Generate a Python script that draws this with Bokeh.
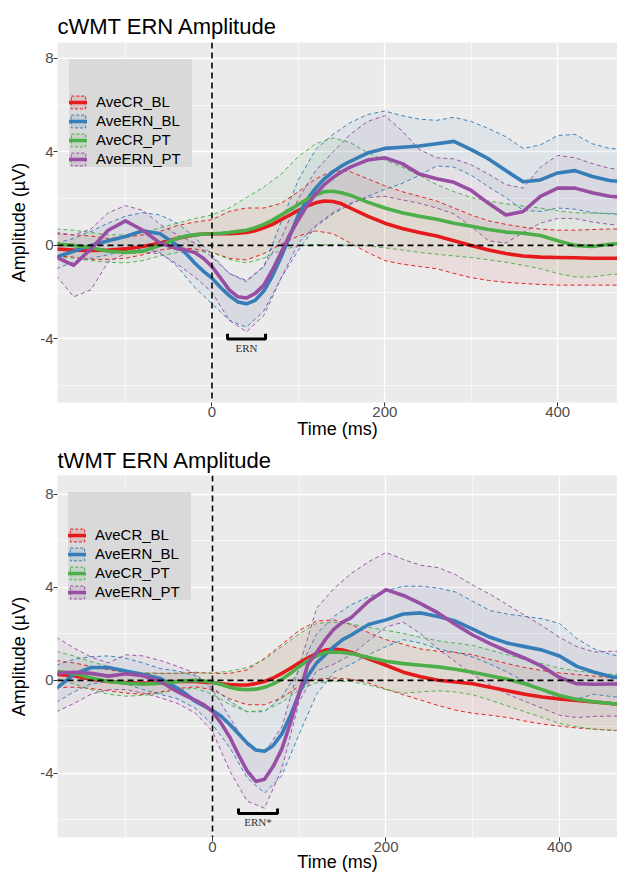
import numpy as np
from bokeh.plotting import figure
from bokeh.models import (Range1d, FixedTicker, Span, Legend, LegendItem)
from bokeh.layouts import column
from bokeh.embed import file_html
from bokeh.resources import INLINE
from bokeh.core.properties import value

# ---------------- data ----------------
# time base of the confidence bands (dashed bounds)
time_ms = [-180, -160, -140, -120, -100, -80, -60, -40, -20, 0,
           20, 40, 60, 80, 100, 120, 140, 160, 180, 200,
           220, 240, 260, 280, 300, 320, 340, 360, 380, 400,
           420, 440, 460, 480]
# time base of the mean waveforms (finer around the ERN)
time_mean = [-180, -160, -140, -120, -100, -80, -60,
             -40, -30, -20, -10, 0, 10, 20, 30, 40, 50, 60, 70, 80, 90,
             100, 110, 120, 130, 140, 150, 160,
             180, 200, 220, 240, 260, 280, 300, 320, 340, 360, 380, 400,
             420, 440, 460, 480]

series_names = ["AveCR_BL", "AveERN_BL", "AveCR_PT", "AveERN_PT"]
series_colors = ["#E41A1C", "#377EB8", "#4DAF4A", "#984EA3"]

x_ticks = [-200, 0, 200, 400]
x_tick_labels = ["-200", "0", "200", "400"]
x_minor = [-100, 100, 300]
y_ticks = [-4, 0, 4, 8]
y_tick_labels = ["-4", "0", "4", "8"]
y_minor = [-6, -2, 2, 6]

# ---- cWMT (top) ----
c_cr_bl = [-0.15, -0.2, -0.22, -0.2, -0.15, -0.05, 0.1,
           0.3, 0.38, 0.45, 0.49, 0.5, 0.5, 0.5, 0.52, 0.55, 0.63, 0.75, 0.9, 1.1, 1.3,
           1.5, 1.68, 1.82, 1.9, 1.88, 1.78, 1.6,
           1.25, 0.95, 0.72, 0.55, 0.4, 0.2, 0.0, -0.2, -0.35, -0.45, -0.5, -0.52,
           -0.53, -0.55, -0.55, -0.55]
c_cr_bl_hi = [0.5, 0.45, 0.4, 0.3, 0.35, 0.45, 0.6, 0.85, 1.0, 1.1,
              1.45, 1.6, 1.6, 1.8, 2.3, 2.85, 3.2, 3.15, 2.85, 2.55,
              2.3, 2.1, 1.9, 1.6, 1.3, 1.05, 0.9, 0.78, 0.7, 0.65,
              0.65, 0.68, 0.7, 0.7]
c_cr_bl_lo = [-0.45, -0.5, -0.6, -0.6, -0.55, -0.4, -0.2, -0.1, -0.15, -0.3,
              -0.55, -0.62, -0.35, 0.05, 0.4, 0.62, 0.5, 0.1, -0.3, -0.65,
              -0.8, -0.9, -1.0, -1.2, -1.38, -1.5, -1.58, -1.63, -1.67, -1.7,
              -1.7, -1.7, -1.7, -1.7]

c_ern_bl = [-0.5, -0.25, 0.0, 0.2, 0.38, 0.63, 0.5,
            0.0, -0.35, -0.75, -1.1, -1.4, -1.8, -2.15, -2.42, -2.5, -2.35, -1.95, -1.3, -0.5, 0.4,
            1.3, 1.95, 2.45, 2.85, 3.15, 3.4, 3.6,
            3.95, 4.15, 4.2, 4.25, 4.35, 4.45, 4.1, 3.7, 3.2, 2.72, 2.8, 3.1,
            3.2, 2.95, 2.78, 2.7]
c_ern_bl_hi = [0.1, 0.3, 0.6, 0.95, 1.25, 1.4, 1.3, 0.95, 0.35, -0.4,
               -1.2, -1.55, -0.9, 1.0, 2.8, 4.1, 4.75, 5.25, 5.6, 5.75,
               5.55, 5.4, 5.35, 5.48, 5.3, 5.0, 4.65, 4.15, 4.3, 4.7,
               4.75, 4.35, 4.15, 4.1]
c_ern_bl_lo = [-1.0, -0.7, -0.55, -0.4, -0.25, -0.15, -0.3, -0.9, -1.8, -2.5,
               -3.2, -3.5, -2.8, -1.4, -0.2, 0.8, 1.35, 1.75, 2.1, 2.4,
               2.65, 3.0, 3.4, 3.35, 3.0, 2.5, 2.05, 1.5, 1.45, 1.6,
               1.55, 1.4, 1.35, 1.3]

c_cr_pt = [0.05, 0.0, -0.1, -0.25, -0.3, -0.25, 0.0,
           0.3, 0.4, 0.45, 0.49, 0.5, 0.52, 0.55, 0.6, 0.65, 0.76, 0.9, 1.08, 1.3, 1.52,
           1.75, 1.97, 2.15, 2.3, 2.32, 2.25, 2.15,
           1.85, 1.6, 1.4, 1.25, 1.12, 0.95, 0.82, 0.68, 0.57, 0.52, 0.42, 0.2,
           0.0, -0.05, 0.05, 0.1]
c_cr_pt_hi = [0.7, 0.65, 0.55, 0.45, 0.45, 0.55, 0.75, 0.95, 1.15, 1.3,
              1.6, 2.05, 2.5, 3.05, 3.8, 4.35, 4.6, 4.4, 3.97, 3.65,
              3.35, 3.0, 2.6, 2.3, 2.05, 1.9, 1.78, 1.68, 1.6, 1.48,
              1.4, 1.38, 1.37, 1.37]
c_cr_pt_lo = [-0.5, -0.55, -0.65, -0.72, -0.75, -0.65, -0.45, -0.3, -0.25, -0.3,
              -0.6, -0.75, -0.55, -0.2, -0.02, 0.03, 0.02, 0.0, -0.02, -0.1,
              -0.2, -0.3, -0.38, -0.45, -0.52, -0.62, -0.72, -0.85, -1.0, -1.2,
              -1.35, -1.35, -1.25, -1.2]

c_ern_pt = [-0.5, -0.85, -0.15, 0.65, 1.05, 0.65, 0.1,
            -0.15, -0.2, -0.3, -0.55, -0.9, -1.4, -1.9, -2.2, -2.25, -2.05, -1.7, -1.05, -0.3, 0.45,
            1.1, 1.7, 2.2, 2.6, 2.9, 3.15, 3.35,
            3.65, 3.75, 3.5, 3.05, 2.85, 2.7, 2.35, 1.8, 1.3, 1.45, 2.1, 2.45,
            2.45, 2.25, 2.1, 2.05]
c_ern_pt_hi = [0.55, 0.45, 0.7, 1.4, 1.7, 1.5, 0.9, 0.45, 0.1, -0.5,
               -1.2, -1.5, -0.9, 0.3, 2.0, 3.2, 4.0, 4.75, 5.3, 5.55,
               4.9, 4.1, 3.75, 3.7, 3.45, 3.05, 2.6, 2.45, 3.35, 3.85,
               3.75, 3.5, 3.3, 3.2]
c_ern_pt_lo = [-1.3, -2.2, -1.9, -0.7, -0.35, -0.3, -0.35, -0.8, -1.35, -2.0,
               -3.2, -3.7, -3.0, -1.4, 0.1, 0.85, 1.4, 1.8, 2.05, 2.1,
               1.95, 1.8, 1.6, 1.35, 0.8, 0.2, 0.1, 0.55, 0.95, 1.15,
               1.15, 1.0, 0.9, 0.85]

# ---- tWMT (bottom) ----
t_cr_bl = [0.25, 0.2, 0.05, -0.05, -0.1, -0.13, -0.1,
           -0.05, -0.05, -0.05, -0.08, -0.1, -0.15, -0.18, -0.2, -0.2, -0.14, -0.05, 0.1, 0.3, 0.52,
           0.75, 0.97, 1.15, 1.3, 1.35, 1.3, 1.2,
           0.93, 0.65, 0.35, 0.15, 0.0, -0.07, -0.15, -0.3, -0.45, -0.6, -0.72, -0.8,
           -0.87, -0.93, -1.0, -1.05]
t_cr_bl_hi = [0.85, 0.75, 0.6, 0.45, 0.35, 0.3, 0.3, 0.3, 0.35, 0.3,
              0.3, 0.45, 0.95, 1.55, 2.15, 2.55, 2.6, 2.4, 2.05, 1.75,
              1.55, 1.35, 1.25, 1.2, 1.1, 0.9, 0.72, 0.55, 0.42, 0.32,
              0.25, 0.18, 0.12, 0.1]
t_cr_bl_lo = [-0.3, -0.3, -0.35, -0.45, -0.55, -0.6, -0.5, -0.35, -0.28, -0.4,
              -0.8, -1.05, -1.05, -0.75, -0.25, 0.05, 0.1, 0.05, -0.12, -0.38,
              -0.62, -0.85, -1.08, -1.28, -1.42, -1.5, -1.6, -1.75, -1.88, -1.97,
              -2.05, -2.1, -2.15, -2.18]

t_ern_bl = [-0.35, 0.25, 0.55, 0.55, 0.4, 0.25, 0.08,
            -0.35, -0.6, -0.9, -1.1, -1.3, -1.55, -1.9, -2.3, -2.7, -3.0, -3.05, -2.8, -2.3, -1.5,
            -0.55, 0.2, 0.75, 1.1, 1.45, 1.75, 1.95,
            2.4, 2.6, 2.85, 2.9, 2.75, 2.55, 2.2, 1.85, 1.6, 1.45, 1.3, 1.05,
            0.6, 0.35, 0.15, 0.08]
t_ern_bl_hi = [0.65, 0.9, 1.02, 1.05, 0.95, 0.75, 0.5, 0.4, 0.2, -0.3,
               -0.9, -1.35, -1.35, -0.7, 0.45, 2.0, 2.75, 3.25, 3.6, 3.85,
               4.05, 4.05, 3.97, 3.8, 3.4, 3.0, 2.85, 2.75, 2.65, 2.45,
               1.8, 1.35, 1.1, 1.0]
t_ern_bl_lo = [-0.95, -0.5, -0.15, -0.05, -0.15, -0.4, -0.6, -0.8, -1.2, -1.9,
               -2.9, -4.2, -4.85, -4.1, -2.3, -0.6, 0.35, 0.7, 1.1, 1.45,
               1.75, 1.6, 1.35, 1.2, 1.0, 0.7, 0.35, -0.05, -0.4, -0.85,
               -0.8, -0.6, -0.7, -0.76]

t_cr_pt = [0.38, 0.3, 0.1, -0.05, -0.12, -0.17, -0.12,
           -0.05, -0.02, 0.0, -0.03, -0.08, -0.18, -0.3, -0.38, -0.4, -0.38, -0.3, -0.15, 0.05, 0.3,
           0.6, 0.85, 1.05, 1.2, 1.22, 1.2, 1.15,
           0.98, 0.82, 0.72, 0.65, 0.58, 0.48, 0.35, 0.2, 0.05, -0.15, -0.4, -0.65,
           -0.82, -0.92, -1.0, -1.05]
t_cr_pt_hi = [1.25, 1.05, 0.8, 0.6, 0.4, 0.33, 0.3, 0.3, 0.32, 0.32,
              0.4, 0.55, 0.9, 1.45, 2.0, 2.45, 2.5, 2.42, 2.28, 2.15,
              2.02, 1.85, 1.7, 1.6, 1.5, 1.3, 1.1, 0.9, 0.72, 0.52,
              0.4, 0.32, 0.26, 0.24]
t_cr_pt_lo = [0.05, -0.15, -0.4, -0.6, -0.68, -0.65, -0.55, -0.4, -0.35, -0.6,
              -1.05, -1.35, -1.3, -0.95, -0.4, -0.1, -0.04, -0.05, -0.2, -0.4,
              -0.55, -0.5, -0.45, -0.5, -0.62, -0.85, -1.1, -1.35, -1.6, -1.85,
              -2.0, -2.1, -2.15, -2.18]

t_ern_pt = [0.3, 0.35, 0.3, 0.18, 0.28, 0.2, -0.05,
            -0.5, -0.68, -0.85, -1.05, -1.35, -1.85, -2.45, -3.2, -3.9, -4.35, -4.25, -3.7, -2.95, -1.8,
            -0.55, 0.7, 1.2, 1.75, 2.2, 2.5, 2.7,
            3.4, 3.9, 3.65, 3.3, 2.9, 2.4, 1.95, 1.58, 1.25, 0.95, 0.6, 0.12,
            -0.15, -0.17, -0.16, -0.16]
t_ern_pt_hi = [1.85, 1.4, 1.0, 0.75, 1.1, 1.05, 0.85, 0.6, 0.3, -0.4,
               -1.6, -2.8, -3.1, -2.0, 0.6, 3.1, 3.95, 4.6, 5.1, 5.5,
               5.2, 4.95, 4.85, 4.55, 4.1, 3.7, 3.25, 2.8, 2.35, 1.85,
               1.45, 1.22, 1.25, 1.25]
t_ern_pt_lo = [-1.35, -1.0, -0.6, -0.4, -0.4, -0.55, -0.75, -1.0, -1.4, -2.2,
               -3.9, -5.2, -5.5, -3.8, -0.9, 0.4, 0.7, 1.1, 1.7, 2.3,
               2.5, 2.0, 1.35, 0.8, 0.25, -0.2, -0.6, -0.9, -1.2, -1.5,
               -1.6, -1.55, -1.54, -1.54]

# ERN window annotations
c_ern_window = [18, 62]
c_ern_level = -4.0
c_ern_label = "ERN"
t_ern_window = [30, 75]
t_ern_level = -5.73
t_ern_label = "ERN*"

# ---------------- styling ----------------
FONT = "Liberation Sans"
SERIF = "Liberation Serif"


def make_panel(title, means, highs, lows, window, level, label,
               x_range, y_range, height, b_top, b_bottom, b_left,
               legend_loc, title_standoff, xlabel_standoff):
    p = figure(width=617, height=height,
               x_range=Range1d(*x_range), y_range=Range1d(*y_range),
               output_backend="svg", toolbar_location=None,
               min_border_left=b_left, min_border_right=0,
               min_border_top=b_top, min_border_bottom=b_bottom)
    p.title.text = title
    p.title.text_font = FONT
    p.title.text_font_size = "22px"
    p.title.text_font_style = "normal"
    p.title.text_color = "black"
    p.title.align = "left"
    p.title.standoff = title_standoff
    p.background_fill_color = "#EBEBEB"
    p.border_fill_color = "white"
    p.outline_line_color = None

    p.xaxis.ticker = FixedTicker(ticks=x_ticks, minor_ticks=x_minor)
    p.yaxis.ticker = FixedTicker(ticks=y_ticks, minor_ticks=y_minor)
    p.xaxis.major_label_overrides = dict(zip(x_ticks, x_tick_labels))
    p.yaxis.major_label_overrides = dict(zip(y_ticks, y_tick_labels))
    p.xaxis.axis_label = "Time (ms)"
    p.yaxis.axis_label = "Amplitude (\u00b5V)"
    for ax in (p.xaxis[0], p.yaxis[0]):
        ax.axis_line_color = None
        ax.major_tick_line_color = "#333333"
        ax.major_tick_in = 0
        ax.major_tick_out = 4
        ax.minor_tick_line_color = None
        ax.major_label_text_font = FONT
        ax.major_label_text_font_size = "15px"
        ax.major_label_text_color = "#4D4D4D"
        ax.major_label_standoff = 0
        ax.axis_label_text_font = FONT
        ax.axis_label_text_font_size = "18px"
        ax.axis_label_text_font_style = "normal"
        ax.axis_label_text_color = "black"
    p.xaxis[0].axis_label_standoff = xlabel_standoff
    p.yaxis[0].axis_label_standoff = 8
    for g in (p.xgrid[0], p.ygrid[0]):
        g.grid_line_color = "white"
        g.grid_line_width = 1.3
        g.minor_grid_line_color = "white"
        g.minor_grid_line_width = 0.6

    # ribbons
    for color, hi, lo in zip(series_colors, highs, lows):
        p.varea(x=time_ms, y1=lo, y2=hi, fill_color=color, fill_alpha=0.07)
    for color, hi, lo in zip(series_colors, highs, lows):
        p.line(time_ms, hi, line_color=color, line_width=1, line_dash="4 3",
               line_alpha=0.95, line_join="round")
        p.line(time_ms, lo, line_color=color, line_width=1, line_dash="4 3",
               line_alpha=0.95, line_join="round")

    items = []
    for name, color, m in zip(series_names, series_colors, means):
        key = p.quad(left=[np.nan], right=[np.nan], top=[np.nan], bottom=[np.nan],
                     fill_color=color, fill_alpha=0.12, line_color=color,
                     line_width=1, line_dash="3 2")
        r = p.line(time_mean, m, line_color=color, line_width=3.6,
                   line_join="round", line_cap="round")
        items.append(LegendItem(label=name, renderers=[key, r]))

    p.add_layout(Span(location=0, dimension="width", line_color="black",
                      line_width=1.6, line_dash="6 4"))
    p.add_layout(Span(location=0, dimension="height", line_color="black",
                      line_width=1.6, line_dash="6 4"))

    # ERN bracket
    hook = 0.22
    bx = [window[0], window[0], window[1], window[1]]
    by = [level + hook, level, level, level + hook]
    p.line(bx, by, line_color="black", line_width=3)
    p.text(x=[sum(window) / 2], y=[level - 0.12], text=[label],
           text_align="center", text_baseline="top",
           text_font=value(SERIF), text_font_size="11px", text_color="#333333")

    legend = Legend(items=items, location=legend_loc, margin=0,
                    title=" ", title_text_font_size="14px", title_standoff=18,
                    background_fill_color="#D9D9D9", background_fill_alpha=1,
                    border_line_color=None, padding=6, spacing=2,
                    glyph_width=18, glyph_height=16, label_height=16,
                    label_width=96, label_standoff=9,
                    label_text_font=FONT, label_text_font_size="15px",
                    label_text_color="black")
    p.add_layout(legend)
    return p


# top: frame 42..402 (page), bottom: frame 473..837
p1 = make_panel("cWMT ERN Amplitude",
                [c_cr_bl, c_ern_bl, c_cr_pt, c_ern_pt],
                [c_cr_bl_hi, c_ern_bl_hi, c_cr_pt_hi, c_ern_pt_hi],
                [c_cr_bl_lo, c_ern_bl_lo, c_cr_pt_lo, c_ern_pt_lo],
                c_ern_window, c_ern_level, c_ern_label,
                (-178.7, 469.2), (-6.72, 8.68), 442, 42, 40, 55,
                (12, 235), 7, -1)
p2 = make_panel("tWMT ERN Amplitude",
                [t_cr_bl, t_ern_bl, t_cr_pt, t_ern_pt],
                [t_cr_bl_hi, t_ern_bl_hi, t_cr_pt_hi, t_ern_pt_hi],
                [t_cr_bl_lo, t_ern_bl_lo, t_cr_pt_lo, t_ern_pt_lo],
                t_ern_window, t_ern_level, t_ern_label,
                (-178.7, 466.9), (-6.76, 8.81), 433, 31, 38, 57,
                (11, 237), 6, -3)

layout = column(p1, p2)
open("out.html", "w").write(file_html(layout, INLINE))
